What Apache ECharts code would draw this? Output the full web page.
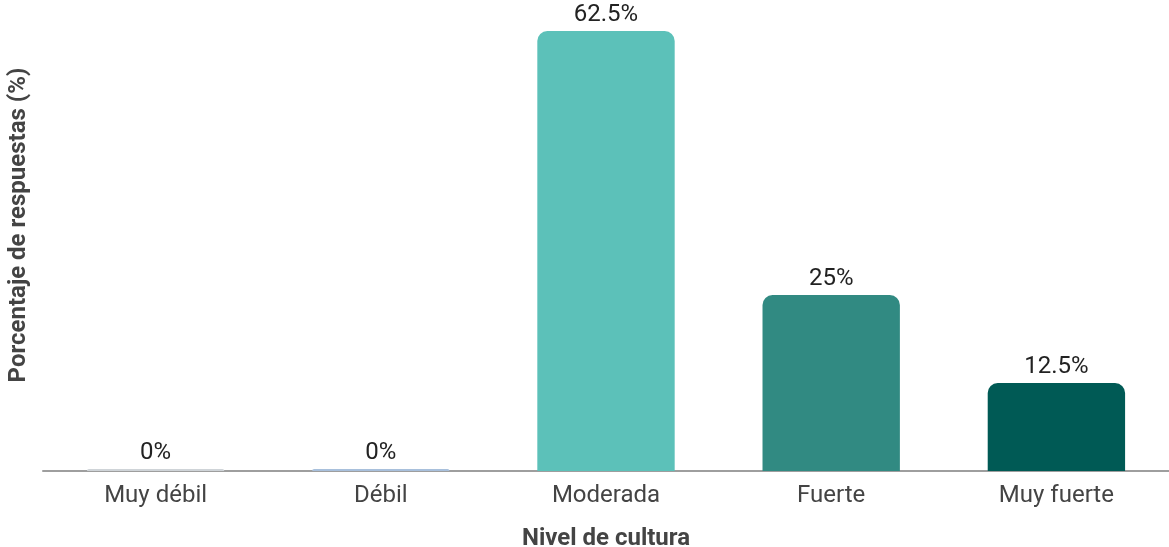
<!DOCTYPE html>
<html><head><meta charset="utf-8">
<script src="https://cdn.jsdelivr.net/npm/echarts@6/dist/echarts.min.js"></script>
<style>html,body{margin:0;padding:0;background:#fff}#c{width:1169px;height:547px}</style>
</head><body><div id="c"></div>
<script>
const categories = ['Muy débil', 'Débil', 'Moderada', 'Fuerte', 'Muy fuerte'];
const values = [0, 0, 62.5, 25, 12.5];
const colors = ['#cfd4d8', '#a8c0dc', '#5cc1b9', '#318a82', '#005a55'];
const xTitle = 'Nivel de cultura';
const yTitle = 'Porcentaje de respuestas (%)';

const chart = echarts.init(document.getElementById('c'));
chart.setOption({
  animation: false,
  textStyle: { fontFamily: 'Roboto' },
  grid: { left: 43, right: 0, top: 31, bottom: 76, containLabel: false, outerBoundsMode: 'none' },
  graphic: [{
    type: 'text', x: 19, y: 225, rotation: Math.PI / 2,
    style: { text: yTitle, fontSize: 24, fontWeight: 'bold', fill: '#444', fontFamily: 'Roboto',
             align: 'center', verticalAlign: 'middle' }
  }],
  xAxis: {
    type: 'category', data: categories,
    name: xTitle, nameLocation: 'middle', nameGap: 56,
    nameTextStyle: { fontSize: 24, fontWeight: 'bold', color: '#444', fontFamily: 'Roboto' },
    axisLine: { lineStyle: { color: '#9e9e9e', width: 2 } },
    axisTick: { show: false },
    axisLabel: { fontSize: 24, color: '#444', margin: 13, fontFamily: 'Roboto' }
  },
  yAxis: {
    type: 'value', min: 0, max: 62.5,
    axisLine: { show: false }, axisTick: { show: false },
    axisLabel: { show: false }, splitLine: { show: false }
  },
  series: [{
    type: 'bar',
    data: values.map((v, i) => ({ value: v, itemStyle: { color: colors[i] } })),
    barWidth: '61%',
    barMinHeight: 2,
    itemStyle: { borderRadius: [10, 10, 0, 0] },
    label: {
      show: true, position: 'top', distance: 4,
      formatter: p => p.value + '%',
      fontSize: 24, color: '#222', fontFamily: 'Roboto'
    }
  }]
});
</script>
</body></html>
